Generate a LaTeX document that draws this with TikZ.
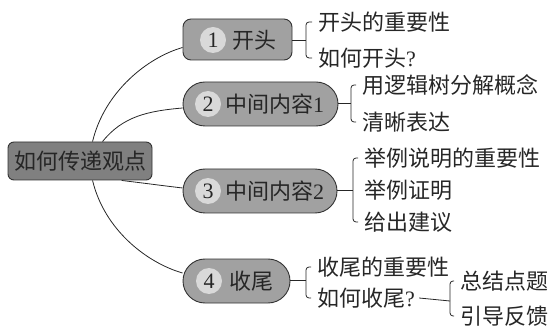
\documentclass[tikz,border=0pt]{standalone}
\usepackage{fontspec}
\setmainfont{Liberation Serif}
\newfontfamily\cjk{Noto Sans CJK SC}
\usetikzlibrary{calc}
\tikzset{
  base/.style={font=\fontsize{22}{25}\selectfont, text=black!85},
  rootbox/.style={draw=black!80, line width=0.9pt, fill=black!50, rounded corners=6pt,
    minimum width=144pt, minimum height=38pt, inner sep=0pt, base},
  topicbox/.style={draw=black!80, line width=0.9pt, fill=black!37, inner sep=0pt},
  numdot/.style={circle, fill=black!15, minimum size=26pt, inner sep=0pt, base},
  leaf/.style={anchor=west, inner sep=0pt, base},
  conn/.style={draw=black!85, line width=0.8pt},
  brk/.style={conn, rounded corners=3pt},
}
\begin{document}
\begin{tikzpicture}[x=1pt,y=-1pt]
\useasboundingbox (0,0) rectangle (553,328);

% root
\node[rootbox] (root) at (80,161) {\cjk 如何传递观点};

% topic boxes
\node[topicbox, rounded corners=8pt, minimum width=109pt, minimum height=41pt] (t1) at (237.5,39.5) {};
\node[topicbox, rounded corners=22pt, minimum width=155pt, minimum height=44pt] (t2) at (260.5,104) {};
\node[topicbox, rounded corners=22pt, minimum width=154pt, minimum height=44pt] (t3) at (260,191) {};
\node[topicbox, rounded corners=22pt, minimum width=107pt, minimum height=44pt] (t4) at (236.5,281) {};

% number dots
\node[numdot] (n1) at (213,40) {1};
\node[numdot] (n2) at (208,104) {2};
\node[numdot] (n3) at (208,191) {3};
\node[numdot] (n4) at (209,281) {4};

% topic labels
\node[leaf] (l1) at (232,40) {\cjk 开头};
\node[leaf] (l2) at (225,104) {{\cjk 中间内容}1};
\node[leaf] (l3) at (225,191) {{\cjk 中间内容}2};
\node[leaf] (l4) at (229,281) {\cjk 收尾};

% leaves
\node[leaf] (a1) at (318,22) {\cjk 开头的重要性};
\node[leaf] (a2) at (318,58) {{\cjk 如何开头}?};
\node[leaf] (b1) at (362,85) {\cjk 用逻辑树分解概念};
\node[leaf] (b2) at (362,122) {\cjk 清晰表达};
\node[leaf] (c1) at (364,158) {\cjk 举例说明的重要性};
\node[leaf] (c2) at (364,190) {\cjk 举例证明};
\node[leaf] (c3) at (364,222) {\cjk 给出建议};
\node[leaf] (d1) at (317,267) {\cjk 收尾的重要性};
\node[leaf] (d2) at (317,298) {{\cjk 如何收尾}?};
\node[leaf] (e1) at (460,281) {\cjk 总结点题};
\node[leaf] (e2) at (460,316) {\cjk 引导反馈};

% bracket joints
\coordinate (k1) at (306,40);
\coordinate (k2) at (351,103);
\coordinate (k3) at (353,190);
\coordinate (k4) at (306,280);
\coordinate (k5) at (450,301);

% root to topics
\draw[conn] ($(root.north west)+(85,0)$) .. controls +(12,-50) and +(-35,10) .. ($(t1.west)+(0,8)$);
\draw[conn] ($(root.north west)+(95,0)$) .. controls +(20,-25) and +(-35,3) .. ($(t2.west)+(0,4)$);
\draw[conn] ($(root.south west)+(114,0)$) .. controls +(25,3) and +(-25,-3) .. ($(t3.west)+(0,-3)$);
\draw[conn] ($(root.south west)+(85,0)$) .. controls +(12,50) and +(-35,-10) .. ($(t4.west)+(0,-8)$);

% topic to brackets
\draw[conn] (t1.east |- k1) -- (k1);
\draw[conn] (t2.east |- k2) -- (k2);
\draw[conn] (t3.east |- k3) -- (k3);
\draw[conn] (t4.east |- k4) -- (k4);
\draw[conn] ($(d2.east)+(4,0)$ |- k5) -- (k5);

% brackets
\draw[brk] ($(a1.west)+(-6,0)$) -- (k1 |- a1.west) -- (k1 |- a2.west) -- ($(a2.west)+(-6,0)$);
\draw[brk] ($(b1.west)+(-6,0)$) -- (k2 |- b1.west) -- (k2 |- b2.west) -- ($(b2.west)+(-6,0)$);
\draw[brk] ($(c1.west)+(-6,0)$) -- (k3 |- c1.west) -- (k3 |- c3.west) -- ($(c3.west)+(-6,0)$);
\draw[brk] ($(d1.west)+(-6,0)$) -- (k4 |- d1.west) -- (k4 |- d2.west) -- ($(d2.west)+(-6,0)$);
\draw[brk] ($(e1.west)+(-6,0)$) -- (k5 |- e1.west) -- (k5 |- e2.west) -- ($(e2.west)+(-6,0)$);
\end{tikzpicture}
\end{document}
